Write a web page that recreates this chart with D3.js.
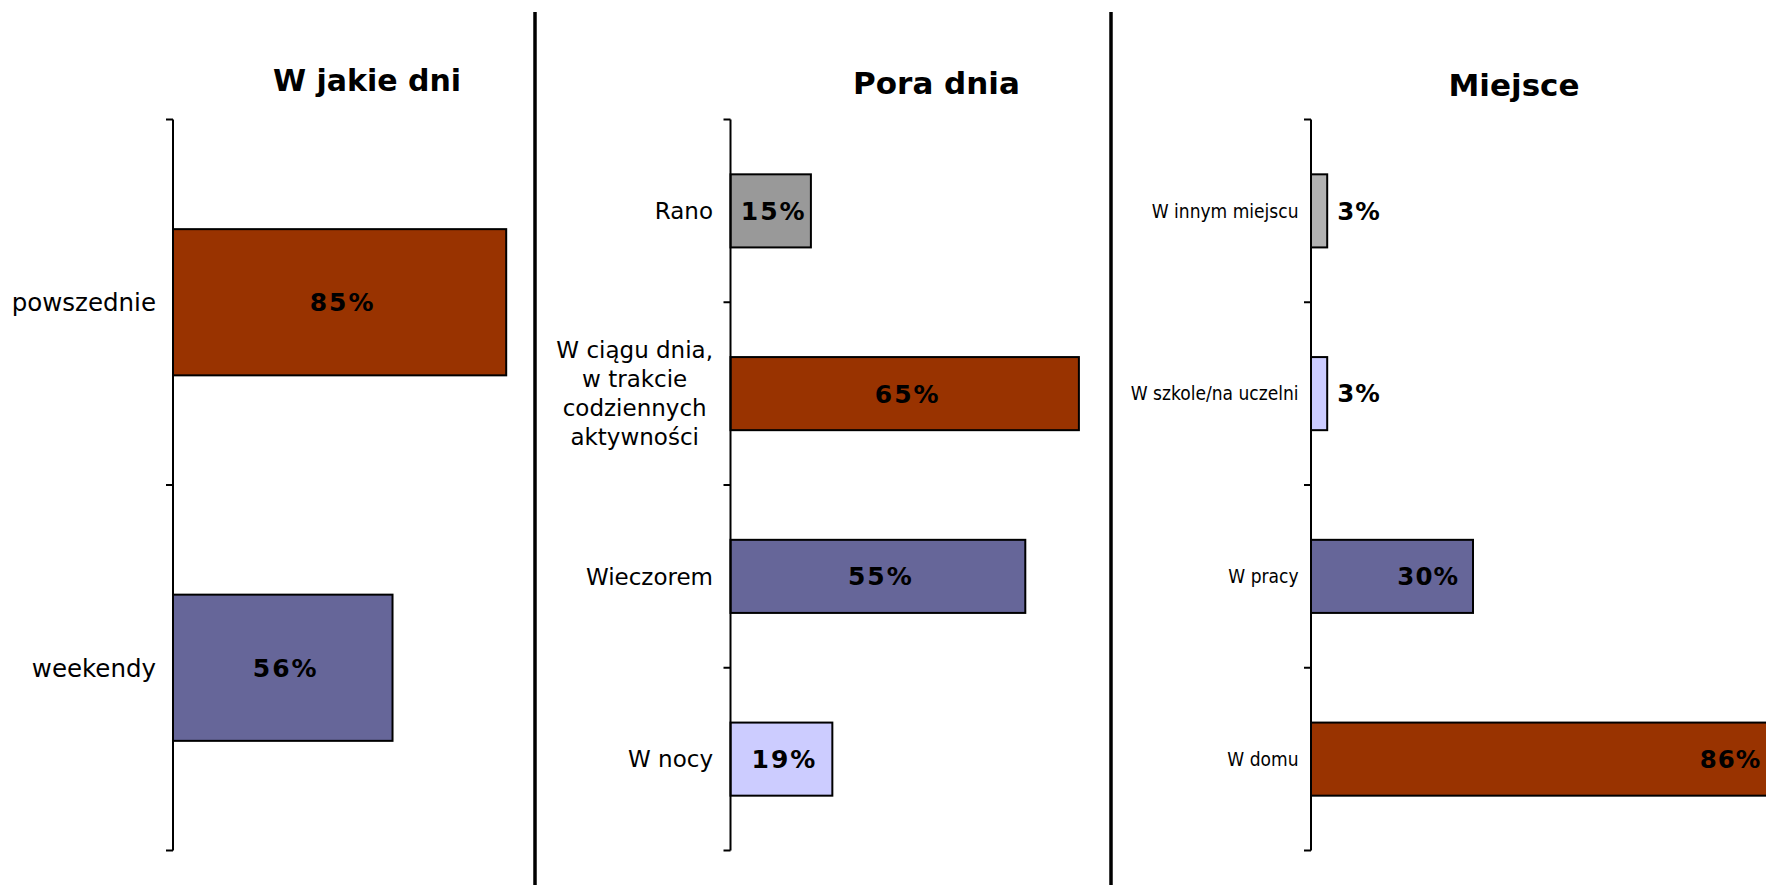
<!DOCTYPE html>
<html lang="pl">
<head>
<meta charset="utf-8">
<title>Kiedy i gdzie</title>
<script src="https://cdn.jsdelivr.net/npm/d3@7"></script>
<style>
  html, body { margin: 0; padding: 0; background: #ffffff; overflow: hidden; }
  svg { display: block; }
  text { fill: #000000; }
</style>
</head>
<body>
<svg id="chart" width="1766" height="885"></svg>
<script>
// --- data -----------------------------------------------------------------
const dayTitle = "W jakie dni";
const dayCategories = ["powszednie", "weekendy"];
const dayValues = [85, 56];

const timeTitle = "Pora dnia";
const timeCategories = ["Rano", "W ciągu dnia,\nw trakcie\ncodziennych\naktywności", "Wieczorem", "W nocy"];
const timeValues = [15, 65, 55, 19];

const placeTitle = "Miejsce";
const placeCategories = ["W innym miejscu", "W szkole/na uczelni", "W pracy", "W domu"];
const placeValues = [3, 3, 30, 86];

// --- colours --------------------------------------------------------------
const brown = "#993300", slate = "#666699", lavender = "#ccccff", grey = "#999999", lightGrey = "#b2b2b2";
const dayColors = [brown, slate];
const timeColors = [grey, brown, slate, lavender];
const placeColors = [lightGrey, lavender, slate, brown];

const svg = d3.select("#chart");
const plotTop = 119.5, plotBottom = 850.5;

const panels = [
  { title: dayTitle, cats: dayCategories, vals: dayValues, colors: dayColors,
    axisX: 173, per100: 392, titleX: 367, titleY: 91, titleSize: 30,
    labelFont: "DejaVu Sans", labelSize: 24.5, labelGap: 17, lineH: 29,
    valueMode: "center", valueSize: 25, valueSpacing: 2 },
  { title: timeTitle, cats: timeCategories, vals: timeValues, colors: timeColors,
    axisX: 730.5, per100: 536, titleX: 936.5, titleY: 94, titleSize: 31,
    labelFont: "DejaVu Sans", labelSize: 23, labelGap: 17.5, lineH: 29,
    valueMode: "center", valueSize: 25, valueSpacing: 2 },
  { title: placeTitle, cats: placeCategories, vals: placeValues, colors: placeColors,
    axisX: 1311, per100: 540, titleX: 1514, titleY: 96, titleSize: 31,
    labelFont: "DejaVu Sans Condensed", labelSize: 19, labelGap: 12.5, lineH: 22,
    valueMode: "end", valueSize: 24.5, valueSpacing: 1 }
];

panels.forEach(p => {
  const g = svg.append("g");

  const x = d3.scaleLinear().domain([0, 100]).range([p.axisX, p.axisX + p.per100]);
  const y = d3.scaleBand().domain(p.cats).range([plotTop, plotBottom])
    .paddingInner(0.6).paddingOuter(0.3);
  const step = y.step();

  // title
  g.append("text")
    .attr("x", p.titleX).attr("y", p.titleY)
    .attr("text-anchor", "middle")
    .style("font-family", "'DejaVu Sans', Verdana, sans-serif")
    .style("font-weight", "bold")
    .style("font-size", p.titleSize + "px")
    .text(p.title);

  // bars
  g.selectAll("rect.bar").data(p.vals).join("rect")
    .attr("class", "bar")
    .attr("x", x(0))
    .attr("y", (d, i) => y(p.cats[i]))
    .attr("width", d => x(d) - x(0))
    .attr("height", y.bandwidth())
    .attr("fill", (d, i) => p.colors[i])
    .attr("stroke", "#000")
    .attr("stroke-width", 2);

  // category axis line with outward ticks at band boundaries
  g.append("line")
    .attr("x1", p.axisX).attr("x2", p.axisX)
    .attr("y1", plotTop).attr("y2", plotBottom)
    .attr("stroke", "#000").attr("stroke-width", 2);
  g.selectAll("line.tick").data(d3.range(p.cats.length + 1)).join("line")
    .attr("class", "tick")
    .attr("x1", p.axisX - 7).attr("x2", p.axisX)
    .attr("y1", i => plotTop + i * step).attr("y2", i => plotTop + i * step)
    .attr("stroke", "#000").attr("stroke-width", 2);

  // category labels (multi-line labels centred as a block, right-aligned to the axis)
  p.cats.forEach(cat => {
    const lines = cat.split("\n");
    const cy = y(cat) + y.bandwidth() / 2;
    const t = g.append("text")
      .style("font-family", "'" + p.labelFont + "', Verdana, sans-serif")
      .style("font-size", p.labelSize + "px");
    const right = p.axisX - p.labelGap;
    if (lines.length === 1) {
      t.attr("x", right).attr("y", cy).attr("dy", "0.36em")
        .attr("text-anchor", "end").text(cat);
    } else {
      const spans = lines.map((ln, k) => t.append("tspan")
        .attr("y", cy + (k - (lines.length - 1) / 2) * p.lineH)
        .attr("dy", "0.36em")
        .text(ln));
      const maxW = d3.max(spans, s => s.node().getComputedTextLength());
      spans.forEach(s => s.attr("x", right - maxW / 2).attr("text-anchor", "middle"));
    }
  });

  // value labels
  const vfont = "'DejaVu Sans', Verdana, sans-serif";
  g.selectAll("text.value").data(p.vals).join("text")
    .attr("class", "value")
    .style("font-family", vfont)
    .style("font-weight", "bold")
    .style("font-size", p.valueSize + "px")
    .style("letter-spacing", p.valueSpacing + "px")
    .attr("dy", "0.36em")
    .attr("y", (d, i) => y(p.cats[i]) + y.bandwidth() / 2)
    .text(d => d + "%")
    .each(function (d) {
      const el = d3.select(this);
      const w = this.getComputedTextLength();
      const barW = x(d) - x(0);
      if (p.valueMode === "center") {
        el.attr("text-anchor", "middle").attr("x", (x(0) + x(d)) / 2 + p.valueSpacing / 2 + 2);
      } else if (w + 24 < barW) {
        el.attr("text-anchor", "end").attr("x", x(d) - 15 + p.valueSpacing);
      } else {
        el.attr("text-anchor", "start").attr("x", x(d) + 10);
      }
    });
});

// vertical separators between the three panels
svg.selectAll("line.sep").data([535, 1111]).join("line")
  .attr("class", "sep")
  .attr("x1", d => d).attr("x2", d => d)
  .attr("y1", 12).attr("y2", 885)
  .attr("stroke", "#000").attr("stroke-width", 3.5);
</script>
</body>
</html>
